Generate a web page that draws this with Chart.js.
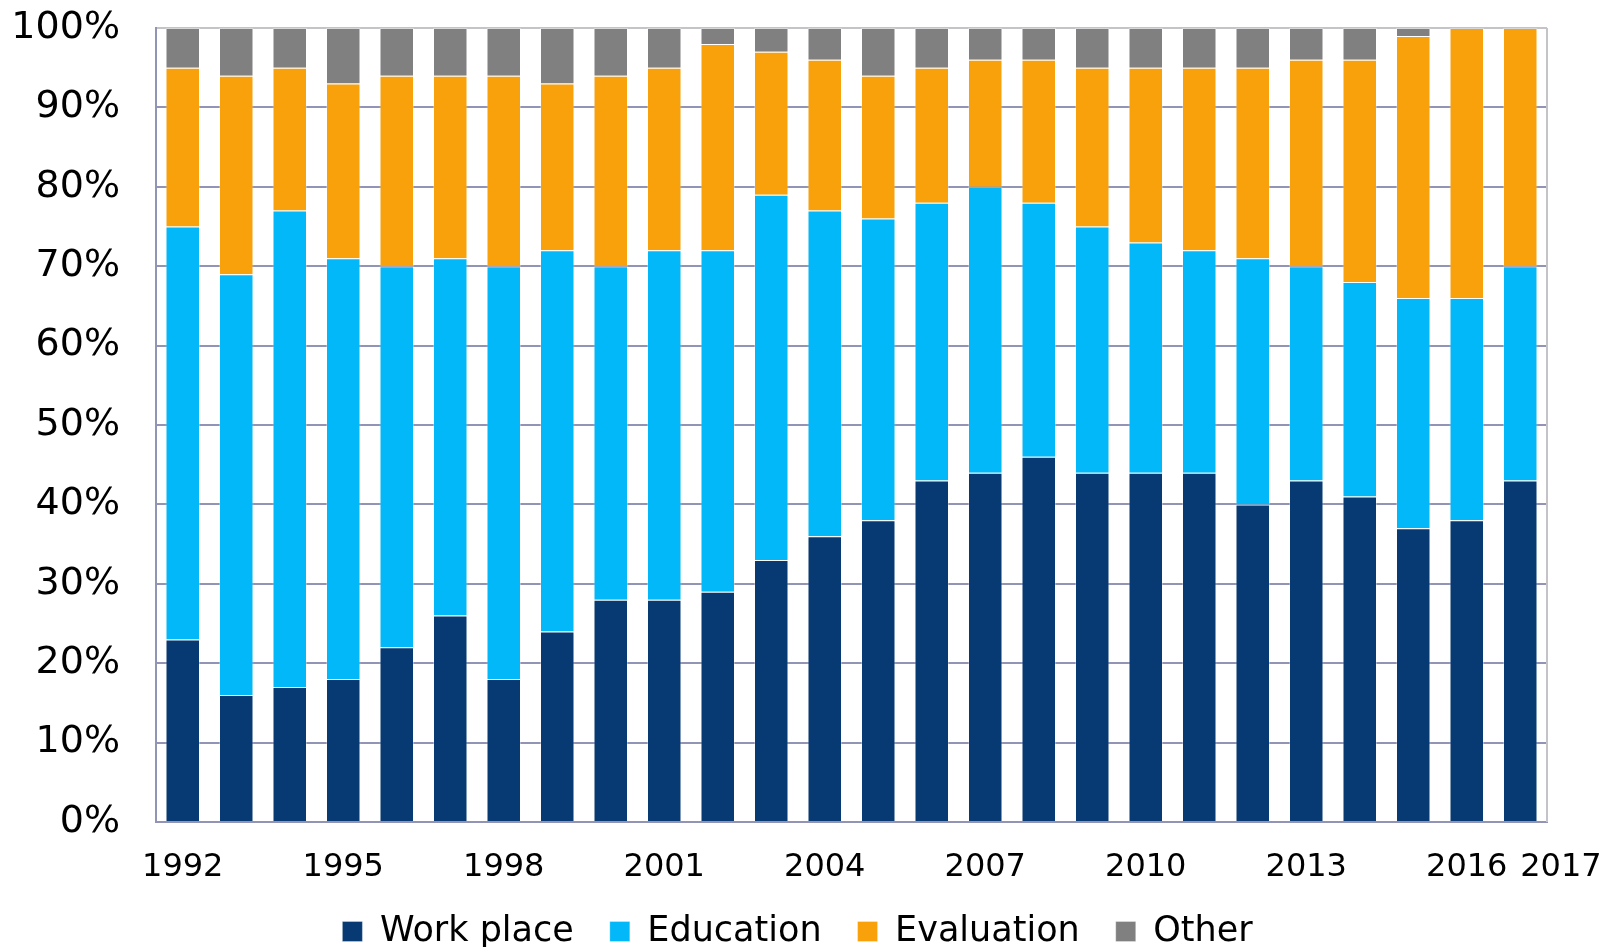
<!DOCTYPE html>
<html>
<head>
<meta charset="utf-8">
<script src="https://cdn.jsdelivr.net/npm/chart.js@4"></script>
<style>
    html, body { margin: 0; padding: 0; background: #fff; }
    #wrap { width: 1603px; height: 947px; }
</style>
</head>
<body>
<div id="wrap"><canvas id="chart" width="1603" height="947"></canvas></div>
<script>
// Годы
const years = ['1992', '1993', '1994', '1995', '1996', '1997', '1998', '1999', '2000', '2001',
    '2002', '2003', '2004', '2005', '2006', '2007', '2008', '2009', '2010', '2011',
    '2012', '2013', '2014', '2015', '2016', '2017'];

// Доли по категориям, %
const workPlace = [23, 16, 17, 18, 22, 26, 18, 24, 28, 28, 29, 33, 36, 38, 43, 44, 46, 44, 44, 44, 40, 43, 41, 37, 38, 43];
const education = [52, 53, 60, 53, 48, 45, 52, 48, 42, 44, 43, 46, 41, 38, 35, 36, 32, 31, 29, 28, 31, 27, 27, 29, 28, 27];
const evaluation = [20, 25, 18, 22, 24, 23, 24, 21, 24, 23, 26, 18, 19, 18, 17, 16, 18, 20, 22, 23, 24, 26, 28, 33, 34, 30];
const other = [5, 6, 5, 7, 6, 6, 6, 7, 6, 5, 2, 3, 4, 6, 5, 4, 4, 5, 5, 5, 5, 4, 4, 1, 0, 0];

// Подписи оси X: каждый третий год и последний
const shownYears = ['1992', '1995', '1998', '2001', '2004', '2007', '2010', '2013', '2016', '2017'];

const fontFamily = '"DejaVu Sans", Verdana, sans-serif';
const gridColor = 'rgb(146, 148, 182)';
const frameColor = '#c4c4c8';

// Рамка справа
const rightBorderPlugin = {
    id: 'rightBorder',
    afterDraw(chart) {
        const { ctx, chartArea } = chart;
        ctx.save();
        ctx.strokeStyle = frameColor;
        ctx.lineWidth = 2;
        ctx.beginPath();
        ctx.moveTo(chartArea.right, chartArea.top);
        ctx.lineTo(chartArea.right, chartArea.bottom);
        ctx.stroke();
        ctx.restore();
    }
};

// Легенда: фиксированная высота и положение внизу
const legendPlugin = {
    id: 'legendPlace',
    afterInit(chart) {
        chart.legend._update = chart.legend.update;
        chart.legend.update = function (...args) {
            this._update(...args);
            this.height = 38;
        };
    },
    afterLayout(chart) {
        const legend = chart.legend;
        legend.top = 878;
        legend.bottom = 947;
        legend.left += 24;
        legend.right += 24;
    },
};

const makeSet = (label, data, color) => ({
    label: label,
    data: data,
    backgroundColor: color,
    borderColor: 'rgba(255, 255, 255, 0.3)',
    borderWidth: 1,
    categoryPercentage: 1,
    barPercentage: 0.645,
});

new Chart(document.getElementById('chart'), {
    type: 'bar',
    data: {
        labels: years,
        datasets: [
            makeSet('Work place', workPlace, '#073a72'),
            makeSet('Education', education, '#03b8f8'),
            makeSet('Evaluation', evaluation, '#f9a10a'),
            makeSet('Other', other, '#808080'),
        ]
    },
    options: {
        responsive: false,
        animation: false,
        layout: {
            padding: { top: 28, right: 56, left: 0, bottom: 0 },
        },
        plugins: {
            legend: {
                position: 'bottom',
                labels: {
                    color: '#000',
                    font: { family: fontFamily, size: 35 },
                    boxWidth: 20,
                    boxHeight: 20,
                    padding: 36,
                },
            },
            tooltip: { enabled: false },
        },
        scales: {
            x: {
                stacked: true,
                grid: { display: false, drawTicks: false },
                border: { color: gridColor, width: 2 },
                ticks: {
                    autoSkip: false,
                    maxRotation: 0,
                    padding: 26,
                    color: '#000',
                    font: { family: fontFamily, size: 32 },
                    callback: function (value, index) {
                        const label = this.getLabelForValue(value);
                        if (!shownYears.includes(label)) {
                            return '';
                        }
                        // последняя подпись сдвинута вправо, как в оригинале
                        return index === years.length - 1 ? '        ' + label : label;
                    },
                },
                afterFit(scale) {
                    scale.height = 87;
                    scale.paddingLeft = 0;
                    scale.paddingRight = 0;
                },
            },
            y: {
                stacked: true,
                min: 0,
                max: 100,
                grid: {
                    drawTicks: false,
                    lineWidth: 2,
                    color: (ctx) => ctx.tick && ctx.tick.value === 100 ? frameColor : gridColor,
                },
                border: { color: gridColor, width: 2 },
                ticks: {
                    stepSize: 10,
                    padding: 36,
                    color: '#000',
                    font: { family: fontFamily, size: 38 },
                    callback: (value) => value + '%',
                },
                afterFit(scale) {
                    scale.width = 156;
                    scale.paddingTop = 0;
                    scale.paddingBottom = 0;
                },
            },
        },
    },
    plugins: [rightBorderPlugin, legendPlugin],
});
</script>
</body>
</html>
